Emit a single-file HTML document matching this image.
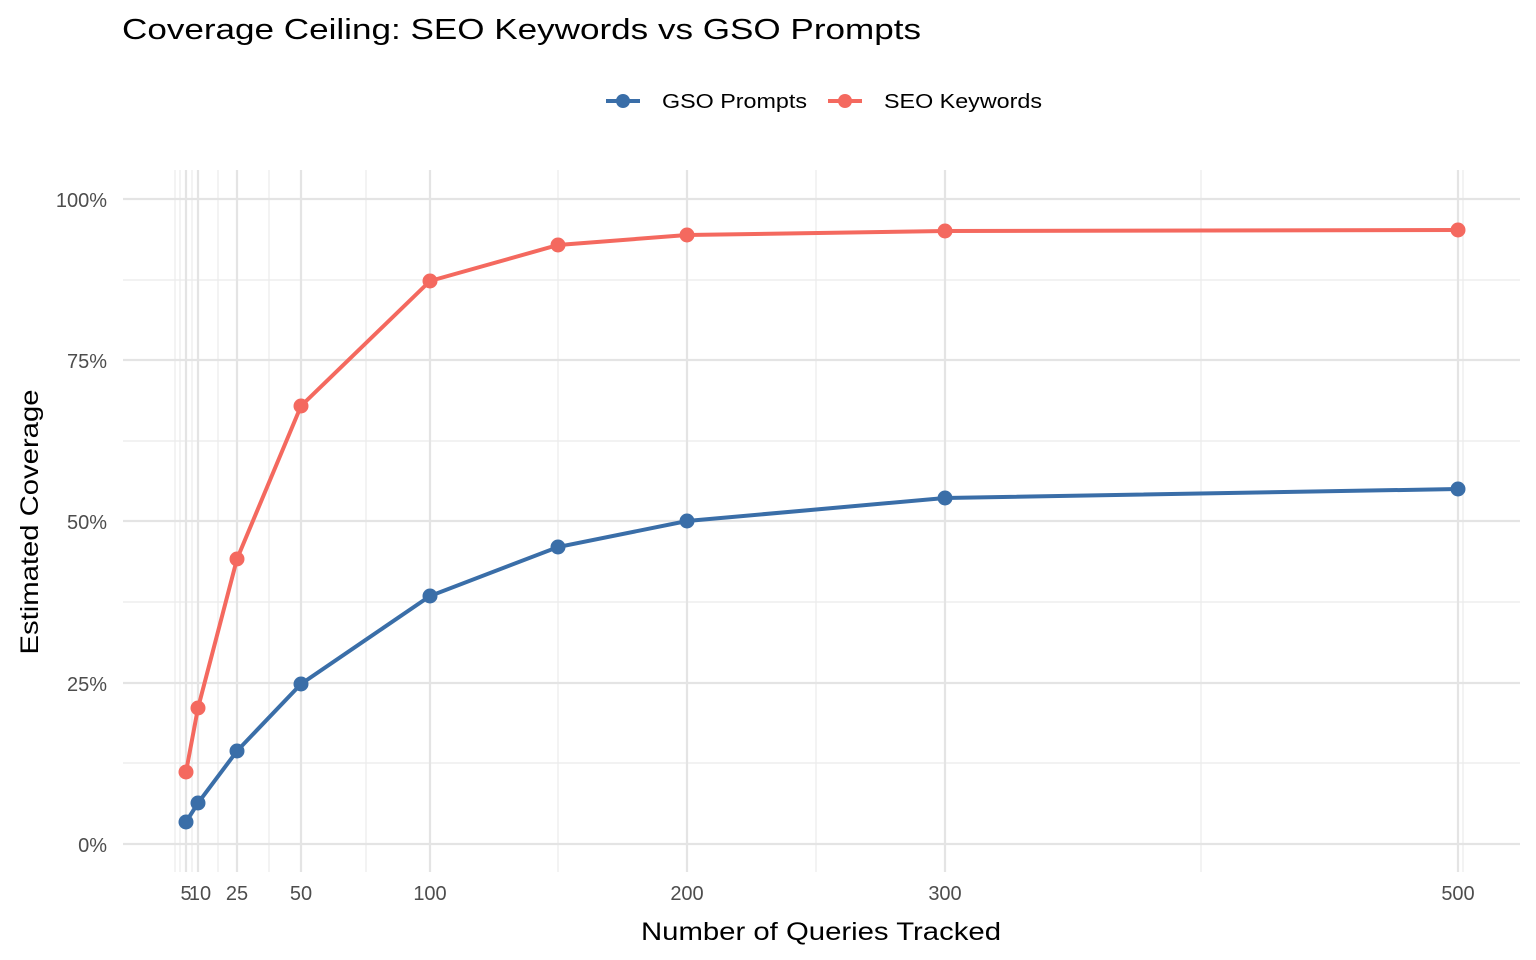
<!DOCTYPE html>
<html><head><style>body{margin:0;background:#fff}svg{display:block}text{font-family:"Liberation Sans",Arial,sans-serif}</style></head>
<body>
<svg width="1536" height="960" viewBox="0 0 1536 960" xmlns="http://www.w3.org/2000/svg">
<rect width="1536" height="960" fill="#fff"/>
<text x="122" y="39" font-size="29" fill="#000" textLength="799" lengthAdjust="spacingAndGlyphs">Coverage Ceiling: SEO Keywords vs GSO Prompts</text>
<g>
<line x1="606" y1="101" x2="640" y2="101" stroke="#3A6EA8" stroke-width="4"/><circle cx="623" cy="101" r="7" fill="#3A6EA8"/>
<text x="662" y="108" font-size="20" textLength="145" lengthAdjust="spacingAndGlyphs">GSO Prompts</text>
<line x1="828" y1="101" x2="862" y2="101" stroke="#F4695F" stroke-width="4"/><circle cx="845" cy="101" r="7" fill="#F4695F"/>
<text x="884" y="108" font-size="20" textLength="158" lengthAdjust="spacingAndGlyphs">SEO Keywords</text>
</g>
<g stroke="#ebebeb" stroke-width="1.2">
<line x1="123" x2="1520" y1="763" y2="763"/><line x1="123" x2="1520" y1="602" y2="602"/><line x1="123" x2="1520" y1="441" y2="441"/><line x1="123" x2="1520" y1="280" y2="280"/>
<line x1="175" x2="175" y1="170" y2="872"/><line x1="180" x2="180" y1="170" y2="872"/><line x1="192" x2="192" y1="170" y2="872"/><line x1="218" x2="218" y1="170" y2="872"/><line x1="269" x2="269" y1="170" y2="872"/><line x1="366" x2="366" y1="170" y2="872"/><line x1="558" x2="558" y1="170" y2="872"/><line x1="816" x2="816" y1="170" y2="872"/><line x1="1201" x2="1201" y1="170" y2="872"/><line x1="1463" x2="1463" y1="170" y2="872"/>
</g>
<g stroke="#e4e4e4" stroke-width="2.2">
<line x1="123" x2="1520" y1="844" y2="844"/><line x1="123" x2="1520" y1="683" y2="683"/><line x1="123" x2="1520" y1="521" y2="521"/><line x1="123" x2="1520" y1="360" y2="360"/><line x1="123" x2="1520" y1="199" y2="199"/>
<line x1="186" x2="186" y1="170" y2="872"/><line x1="198" x2="198" y1="170" y2="872"/><line x1="237" x2="237" y1="170" y2="872"/><line x1="301" x2="301" y1="170" y2="872"/><line x1="430" x2="430" y1="170" y2="872"/><line x1="687" x2="687" y1="170" y2="872"/><line x1="945" x2="945" y1="170" y2="872"/><line x1="1458" x2="1458" y1="170" y2="872"/>
</g>
<g font-size="20" fill="#4d4d4d" text-anchor="end">
<text x="107" y="852">0%</text><text x="107" y="691">25%</text><text x="107" y="529">50%</text><text x="107" y="368">75%</text><text x="107" y="207">100%</text>
</g>
<g font-size="20" fill="#4d4d4d" text-anchor="middle">
<text x="186" y="900">5</text><text x="200" y="900">10</text><text x="237" y="900">25</text><text x="301" y="900">50</text><text x="430" y="900">100</text><text x="687" y="900">200</text><text x="945" y="900">300</text><text x="1458" y="900">500</text>
</g>
<text x="821" y="940" font-size="25" text-anchor="middle" textLength="360" lengthAdjust="spacingAndGlyphs">Number of Queries Tracked</text>
<text transform="translate(38,522) rotate(-90)" font-size="25" text-anchor="middle" textLength="265" lengthAdjust="spacingAndGlyphs">Estimated Coverage</text>
<polyline fill="none" stroke="#3A6EA8" stroke-width="4" points="186,822 198,803 237,751 301,684 430,596 558,547 687,521 945,498 1458,489"/>
<polyline fill="none" stroke="#F4695F" stroke-width="4" points="186,772 198,708 237,559 301,406 430,281 558,245 687,235 945,231 1458,230"/>
<g fill="#3A6EA8"><circle cx="186" cy="822" r="7.5"/><circle cx="198" cy="803" r="7.5"/><circle cx="237" cy="751" r="7.5"/><circle cx="301" cy="684" r="7.5"/><circle cx="430" cy="596" r="7.5"/><circle cx="558" cy="547" r="7.5"/><circle cx="687" cy="521" r="7.5"/><circle cx="945" cy="498" r="7.5"/><circle cx="1458" cy="489" r="7.5"/></g>
<g fill="#F4695F"><circle cx="186" cy="772" r="7.5"/><circle cx="198" cy="708" r="7.5"/><circle cx="237" cy="559" r="7.5"/><circle cx="301" cy="406" r="7.5"/><circle cx="430" cy="281" r="7.5"/><circle cx="558" cy="245" r="7.5"/><circle cx="687" cy="235" r="7.5"/><circle cx="945" cy="231" r="7.5"/><circle cx="1458" cy="230" r="7.5"/></g>
</svg>
</body></html>
